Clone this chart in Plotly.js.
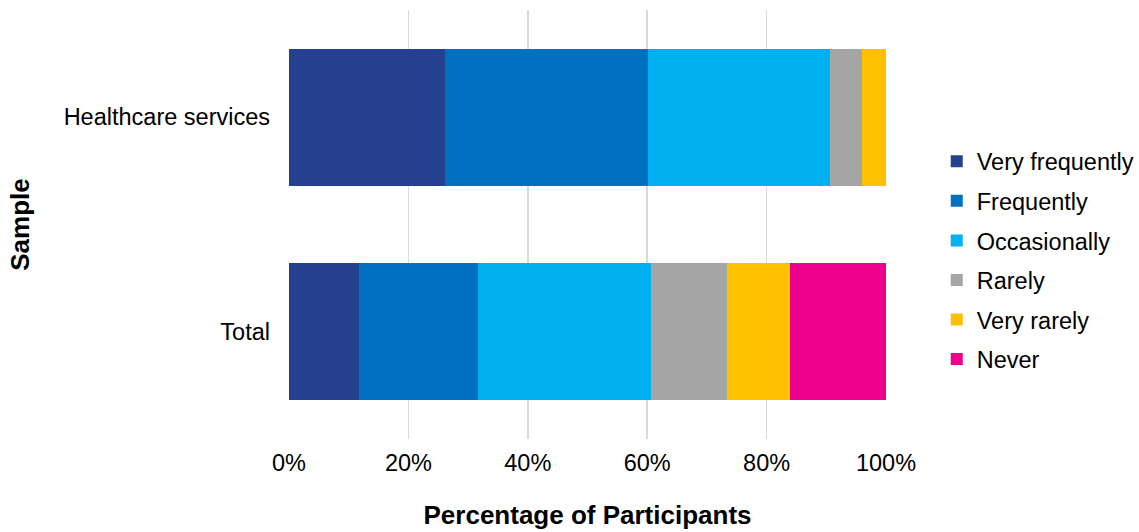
<!DOCTYPE html>
<html>
<head>
<meta charset="utf-8">
<script src="https://cdn.plot.ly/plotly-3.0.1.min.js"></script>
<style>html,body{margin:0;padding:0;background:#fff;}#chart{width:1139px;height:532px;}</style>
</head>
<body>
<div id="chart"></div>
<script>
const categories = ["Healthcare services", "Total"];
const seriesNames = ["Very frequently", "Frequently", "Occasionally", "Rarely", "Very rarely", "Never"];
const veryFrequently = [26.2, 11.8];
const frequently = [33.9, 19.9];
const occasionally = [30.5, 29.0];
const rarely = [5.3, 12.6];
const veryRarely = [4.1, 10.7];
const never = [0.0, 16.0];
const xTickVals = [0, 20, 40, 60, 80, 100];
const xTickText = ["0%", "20%", "40%", "60%", "80%", "100%"];

const colors = ["#25408f", "#0070c0", "#00b0f0", "#a5a5a5", "#ffc000", "#ec008c"];
const seriesValues = [veryFrequently, frequently, occasionally, rarely, veryRarely, never];

const traces = seriesNames.map((name, i) => ({
  type: "bar",
  orientation: "h",
  name: name,
  legendgroup: "g" + i,
  y: categories,
  x: seriesValues[i],
  marker: {color: colors[i], line: {width: 0}},
  hoverinfo: "name+x"
}));

const font = "Liberation Sans, Arial, Helvetica, sans-serif";
const layout = {
  width: 1139, height: 532,
  barmode: "stack",
  bargap: 0.36,
  paper_bgcolor: "#fff", plot_bgcolor: "#fff",
  font: {family: font, size: 24, color: "#000"},
  margin: {l: 289, r: 253, t: 10, b: 93, autoexpand: false},
  xaxis: {
    range: [0, 100],
    tickvals: xTickVals, ticktext: xTickText,
    showgrid: true, gridcolor: "#d9d9d9", gridwidth: 1.5,
    zeroline: false, showline: false,
    ticks: "", ticklabelstandoff: 7,
    tickfont: {size: 23.5, family: font},
    title: {text: "<b>Percentage of Participants</b>", font: {size: 26, family: font}, standoff: 31}
  },
  yaxis: {
    autorange: "reversed",
    showgrid: false, zeroline: false, showline: false,
    ticks: "", ticklabelstandoff: 18,
    tickfont: {size: 23.5, family: font},
    title: {text: "<b>Sample</b>", font: {size: 26, family: font}, standoff: 26}
  },
  legend: {
    x: 1.085, xanchor: "left",
    y: 0.416, yanchor: "middle",
    traceorder: "grouped",
    tracegroupgap: 6,
    font: {size: 23.5, family: font},
    itemwidth: 30,
    bgcolor: "rgba(0,0,0,0)"
  },
  showlegend: true
};

Plotly.newPlot("chart", traces, layout, {displayModeBar: false, staticPlot: true});
</script>
</body>
</html>
